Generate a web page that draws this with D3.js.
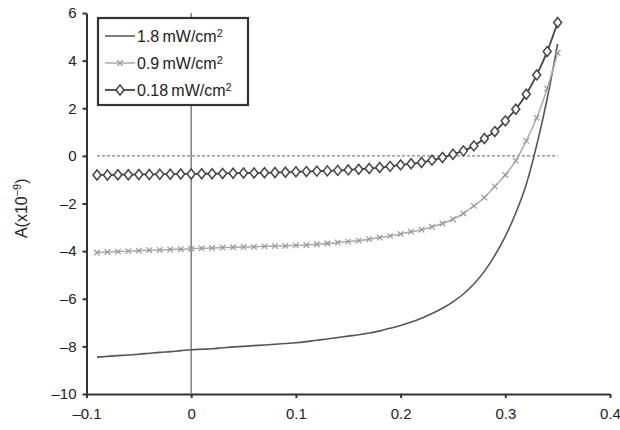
<!DOCTYPE html>
<html lang="en">
<head>
    <meta charset="UTF-8">
    <title>A vs V under illumination</title>
    <script src="https://d3js.org/d3.v7.min.js"></script>
    <style>
        body { margin: 0; background: #fff; }
        text { font-family: "Liberation Sans", Arial, Helvetica, sans-serif; fill: #222; }
        .axis path, .axis line { stroke: #333; stroke-width: 2px; }
        .axis text { font-size: 15px; }
    </style>
</head>
<body>
    <div id="chart"></div>
    <script>
        // Voltage points (x axis), one every 0.01
        const xValues = [-0.09, -0.08, -0.07, -0.06, -0.05, -0.04, -0.03, -0.02, -0.01, 0.00,
                         0.01, 0.02, 0.03, 0.04, 0.05, 0.06, 0.07, 0.08, 0.09, 0.10,
                         0.11, 0.12, 0.13, 0.14, 0.15, 0.16, 0.17, 0.18, 0.19, 0.20,
                         0.21, 0.22, 0.23, 0.24, 0.25, 0.26, 0.27, 0.28, 0.29, 0.30,
                         0.31, 0.32, 0.33, 0.34, 0.35];

        // Current series (x10^-9)
        const series18 = [-8.45, -8.42, -8.39, -8.36, -8.33, -8.29, -8.25, -8.22, -8.18, -8.14,
                          -8.12, -8.10, -8.06, -8.02, -8.00, -7.97, -7.94, -7.91, -7.88, -7.85,
                          -7.80, -7.74, -7.69, -7.63, -7.57, -7.51, -7.44, -7.35, -7.24, -7.12,
                          -6.98, -6.82, -6.62, -6.40, -6.13, -5.80, -5.38, -4.85, -4.18, -3.38,
                          -2.40, -1.20, 0.45, 2.40, 4.70];
        const series09 = [-4.06, -4.04, -4.02, -4.00, -3.98, -3.96, -3.95, -3.93, -3.92, -3.90,
                          -3.88, -3.87, -3.85, -3.84, -3.83, -3.82, -3.80, -3.79, -3.78, -3.76,
                          -3.74, -3.71, -3.68, -3.64, -3.60, -3.56, -3.50, -3.43, -3.36, -3.28,
                          -3.19, -3.10, -2.98, -2.84, -2.66, -2.42, -2.10, -1.75, -1.28, -0.80,
                          -0.20, 0.63, 1.60, 2.82, 4.33];
        const series018 = [-0.80, -0.80, -0.79, -0.79, -0.78, -0.78, -0.77, -0.77, -0.76, -0.76,
                           -0.75, -0.75, -0.74, -0.73, -0.72, -0.72, -0.71, -0.70, -0.69, -0.67,
                           -0.66, -0.64, -0.63, -0.61, -0.59, -0.56, -0.53, -0.49, -0.44, -0.38,
                           -0.33, -0.28, -0.18, -0.07, 0.07, 0.21, 0.42, 0.73, 1.02, 1.47,
                           1.96, 2.59, 3.40, 4.38, 5.60];

        const seriesNames = ["1.8", "0.9", "0.18"];
        const xTicks = [-0.1, 0, 0.1, 0.2, 0.3, 0.4];
        const yTicks = [-10, -8, -6, -4, -2, 0, 2, 4, 6];

        const width = 620, height = 430;
        const margin = { top: 13, right: 10, bottom: 36, left: 86.5 };

        const svg = d3.select("#chart")
                      .append("svg")
                      .attr("width", width)
                      .attr("height", height);

        const x = d3.scaleLinear().domain([-0.1, 0.4]).range([margin.left, width - margin.right]);
        const y = d3.scaleLinear().domain([-10, 6]).range([height - margin.bottom, margin.top]);

        const fmt = d => d < 0 ? "\u2013" + d3.format("")(-d) : d3.format("")(d);

        // Axes
        svg.append("g")
           .attr("class", "axis")
           .attr("transform", `translate(0,${y(-10)})`)
           .call(d3.axisBottom(x).tickValues(xTicks).tickSize(4).tickSizeOuter(0).tickPadding(10).tickFormat(fmt));

        svg.append("g")
           .attr("class", "axis")
           .attr("transform", `translate(${x(-0.1)},0)`)
           .call(d3.axisLeft(y).tickValues(yTicks).tickSize(4).tickSizeOuter(0).tickPadding(6).tickFormat(fmt));

        // Zero reference lines
        svg.append("line")
           .attr("x1", x(-0.09)).attr("x2", x(0.35))
           .attr("y1", y(0)).attr("y2", y(0))
           .attr("stroke", "#666").attr("stroke-width", 1)
           .attr("stroke-dasharray", "3,2");

        svg.append("line")
           .attr("x1", x(0)).attr("x2", x(0))
           .attr("y1", y(6)).attr("y2", y(-10))
           .attr("stroke", "#888").attr("stroke-width", 1.6);

        const line = d3.line().curve(d3.curveMonotoneX).x((d, i) => x(xValues[i])).y(d => y(d));

        // 1.8 mW/cm2 - plain line
        svg.append("path")
           .datum(series18)
           .attr("fill", "none").attr("stroke", "#555").attr("stroke-width", 1.6)
           .attr("d", line);

        // 0.9 mW/cm2 - light line with x markers
        svg.append("path")
           .datum(series09)
           .attr("fill", "none").attr("stroke", "#aaa").attr("stroke-width", 1.5)
           .attr("d", line);

        const cross = d3.symbol().type(d3.symbolTimes).size(22);
        svg.append("g").selectAll("path")
           .data(series09)
           .join("path")
           .attr("transform", (d, i) => `translate(${x(xValues[i])},${y(d)})`)
           .attr("d", cross)
           .attr("fill", "none").attr("stroke", "#999").attr("stroke-width", 1.2);

        // 0.18 mW/cm2 - dark line with open diamonds
        svg.append("path")
           .datum(series018)
           .attr("fill", "none").attr("stroke", "#444").attr("stroke-width", 1.8)
           .attr("d", line);

        const diamond = (cx, cy) => `M${cx},${cy - 5}L${cx + 4},${cy}L${cx},${cy + 5}L${cx - 4},${cy}Z`;
        svg.append("g").selectAll("path")
           .data(series018)
           .join("path")
           .attr("d", (d, i) => diamond(x(xValues[i]), y(d)))
           .attr("fill", "#fff").attr("stroke", "#444").attr("stroke-width", 1.5);

        // Y axis label
        const ylab = svg.append("text")
           .attr("transform", `translate(27,${y(-2.2)}) rotate(-90)`)
           .attr("text-anchor", "middle")
           .attr("font-size", 16);
        ylab.append("tspan").text("A(x10");
        ylab.append("tspan").attr("dy", -6).attr("font-size", 11).text("\u22129");
        ylab.append("tspan").attr("dy", 6).text(")");

        // Legend
        const legend = svg.append("g").attr("transform", "translate(98,18)");
        legend.append("rect")
              .attr("width", 150).attr("height", 87)
              .attr("fill", "#fff").attr("stroke", "#333").attr("stroke-width", 2.2);

        const rows = [
            { name: seriesNames[0], color: "#555", width: 1.5, marker: null },
            { name: seriesNames[1], color: "#aaa", width: 1.5, marker: "x" },
            { name: seriesNames[2], color: "#444", width: 1.8, marker: "d" }
        ];
        rows.forEach((r, i) => {
            const ry = 18 + i * 27;
            legend.append("line")
                  .attr("x1", 7).attr("x2", 37).attr("y1", ry).attr("y2", ry)
                  .attr("stroke", r.color).attr("stroke-width", r.width);
            if (r.marker === "x") {
                legend.append("path")
                      .attr("transform", `translate(22,${ry})`)
                      .attr("d", cross)
                      .attr("fill", "none").attr("stroke", "#999").attr("stroke-width", 1.2);
            } else if (r.marker === "d") {
                legend.append("path")
                      .attr("d", diamond(22, ry))
                      .attr("fill", "#fff").attr("stroke", "#444").attr("stroke-width", 1.5);
            }
            const t = legend.append("text")
                  .attr("x", 39).attr("y", ry + 6)
                  .attr("font-size", 16);
            t.append("tspan").text(r.name + "\u2009mW/cm");
            t.append("tspan").attr("dy", -5).attr("font-size", 11).text("2");
        });
    </script>
</body>
</html>
